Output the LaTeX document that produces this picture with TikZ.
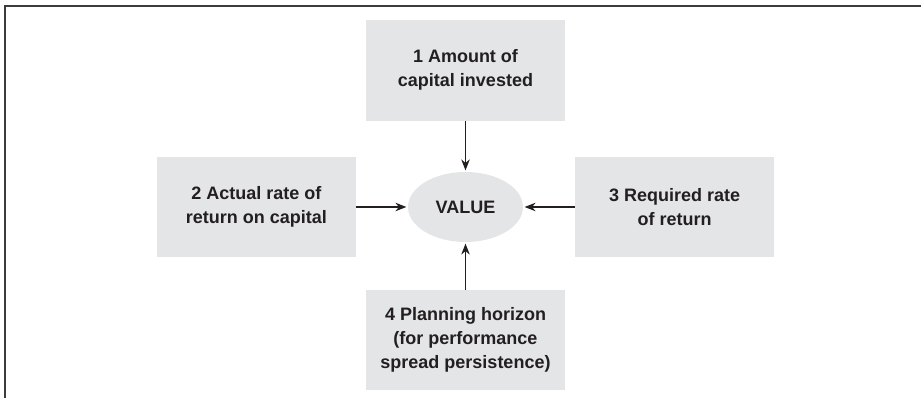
\documentclass[tikz,border=0pt]{standalone}
\usepackage{fontspec}
\setmainfont{Liberation Sans}
\usetikzlibrary{positioning,arrows.meta,shapes.geometric}
\definecolor{boxgray}{RGB}{228,229,231}
\definecolor{framegray}{RGB}{60,60,60}
\definecolor{inkgray}{RGB}{35,31,32}

\begin{document}
\begin{tikzpicture}[x=1pt,y=1pt,->,>={Stealth[length=11pt,width=8.5pt]},shorten >=1pt,line width=1.2pt,
  align=center,font=\fontsize{18}{24}\selectfont\bfseries,text=inkgray,draw=inkgray,
  factor/.style={fill=boxgray,minimum width=199pt,minimum height=100pt,inner sep=0pt},
  hub/.style={ellipse,fill=boxgray,minimum width=115pt,minimum height=70pt,inner sep=0pt}]
\useasboundingbox (0,0) rectangle (921,398);
\draw[-,framegray,line width=2pt,shorten >=0pt] (921,391.5) -- (4.5,391.5) -- (4.5,0);
\node[hub] (val) at (465.5,191) {VALUE};
\node[factor,above=50pt of val,minimum height=101pt] (cap) {1 Amount of\\capital invested};
\node[factor,left=51pt of val] (ret) {2 Actual rate of\\return on capital};
\node[factor,right=51pt of val] (req) {3 Required rate\\of return};
\node[factor,below=47pt of val] (hor) {4 Planning horizon\\(for performance\\spread persistence)};
\draw (cap) -- (val);
\draw (ret) -- (val);
\draw (req) -- (val);
\draw (hor) -- (val);
\end{tikzpicture}
\end{document}
